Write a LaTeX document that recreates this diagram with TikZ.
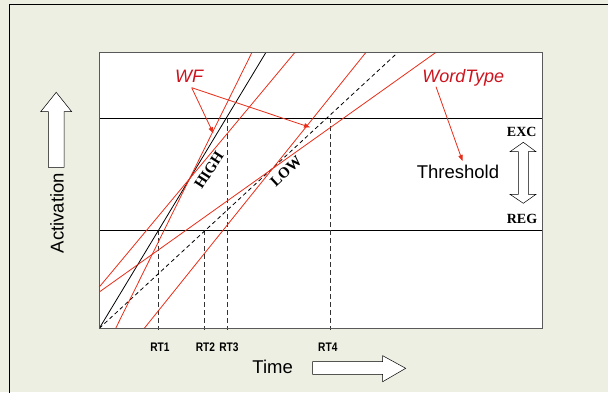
\documentclass[tikz,border=0pt]{standalone}
\usepackage{fontspec}
\setmainfont{Liberation Sans}
\newfontfamily\timesfont{Liberation Serif}
\newfontfamily\narrowfont[FakeStretch=0.82]{Liberation Sans}
\usetikzlibrary{arrows.meta}
\definecolor{paper}{RGB}{236,239,226}
\definecolor{curvered}{RGB}{232,45,25}
\definecolor{labelred}{RGB}{205,20,30}

\begin{document}
\begin{tikzpicture}[x=1pt,y=-1pt,
  frameline/.style={draw=black!65,line width=1pt},
  levelline/.style={draw=black,line width=0.9pt},
  rtline/.style={draw=black!80,line width=0.8pt,dash pattern=on 5pt off 3pt},
  highline/.style={draw=black,line width=0.8pt},
  lowline/.style={draw=black,line width=0.8pt,dash pattern=on 4pt off 3pt},
  redline/.style={draw=curvered,line width=0.8pt},
  pointer/.style={draw=curvered,line width=0.8pt,-{Triangle[length=6pt,width=4.5pt]}},
  blockarrow/.style={draw=black,line width=0.5pt,fill=white,line join=miter},
  rtlabel/.style={font=\narrowfont\bfseries\fontsize{12.4}{14}\selectfont,anchor=base,inner sep=0pt},
  levellabel/.style={font=\timesfont\bfseries\fontsize{14}{16}\selectfont,anchor=base,inner sep=0pt},
  slopelabel/.style={font=\timesfont\bfseries\fontsize{15}{17}\selectfont,inner sep=0pt},
  redlabel/.style={font=\itshape\fontsize{18}{20}\selectfont,text=labelred,inner sep=0pt},
  axislabel/.style={font=\fontsize{18.5}{20}\selectfont,inner sep=0pt}]

\useasboundingbox (0,0) rectangle (608,392);
\fill[paper] (0,0) rectangle (608,392);
\draw[line width=1pt] (9,400) -- (9,4.6) -- (620,4.6);

% plot area
\coordinate (O) at (99.3,328.3);
\fill[white] (99.3,52.3) rectangle (542.7,328.3);

% threshold levels
\draw[levelline] (99.3,118.3) -- (542.7,118.3);
\draw[levelline] (99.3,230.3) -- (542.7,230.3);

% response times
\draw[rtline] (158.3,230.3) -- (158.3,330);
\draw[rtline] (204,230.3) -- (204,330);
\draw[rtline] (227.7,118.3) -- (227.7,330);
\draw[rtline] (330,118.3) -- (330,330);

% baseline accumulators
\draw[highline] (O) -- (266,52.3);
\draw[lowline] (O) -- (398,52.3);

% frequency-shifted accumulators
\draw[redline] (99.3,287) -- (295,52.3);
\draw[redline] (115.7,328.3) -- (252,52.3);
\draw[redline] (99.3,292) -- (436,52.3);
\draw[redline] (144.3,328.3) -- (366,52.3);

\draw[frameline] (99.3,52.3) rectangle (542.7,328.3);

% slope labels
\node[slopelabel,rotate=57] (high) at (209,170) {HIGH};
\node[slopelabel,rotate=43] (low) at (286,171.5) {LOW};

% word frequency pointers
\node[redlabel] (wf) at (189,76.5) {WF};
\coordinate (wfsrc) at (191.7,87.7);
\coordinate (wfhigh) at (213.3,133.3);
\coordinate (wflow) at (310,127.3);
\draw[pointer] (wfsrc) -- (wfhigh);
\draw[pointer] (wfsrc) -- (wflow);

% word type pointer
\node[redlabel,anchor=base] (wt) at (463.3,82.5) {WordType};
\coordinate (wtsrc) at (436,86.7);
\coordinate (wttip) at (462.5,161);
\draw[pointer] (wtsrc) -- (wttip);

\node[axislabel,anchor=base] (thr) at (458,178) {Threshold};

% EXC / REG double arrow
\node[levellabel] (exc) at (521.7,136) {EXC};
\node[levellabel] (reg) at (522,223.3) {REG};
\draw[blockarrow] (523.3,142.3) -- (536,151.7) -- (528.3,151.7) -- (528.3,194.3)
  -- (536,194.3) -- (523.3,203.3) -- (510,194.3) -- (518.3,194.3)
  -- (518.3,151.7) -- (510,151.7) -- cycle;

% RT labels
\node[rtlabel] (rt1) at (160,351.7) {RT1};
\node[rtlabel] (rt2) at (205.5,351.7) {RT2};
\node[rtlabel] (rt3) at (229,351.7) {RT3};
\node[rtlabel] (rt4) at (327.8,351.7) {RT4};

% axis labels with block arrows
\node[axislabel,anchor=base] (time) at (272.7,373) {Time};
\draw[blockarrow] (312.7,361.7) -- (382.7,361.7) -- (382.7,355.7) -- (405.7,368.3)
  -- (382.7,381.7) -- (382.7,374.3) -- (312.7,374.3) -- cycle;

\node[axislabel,rotate=90] (act) at (57,213) {Activation};
\draw[blockarrow] (48.3,167.3) -- (48.3,111.7) -- (40.7,111.7) -- (56.2,92.3)
  -- (71.7,111.7) -- (64,111.7) -- (64,167.3) -- cycle;
\end{tikzpicture}
\end{document}
